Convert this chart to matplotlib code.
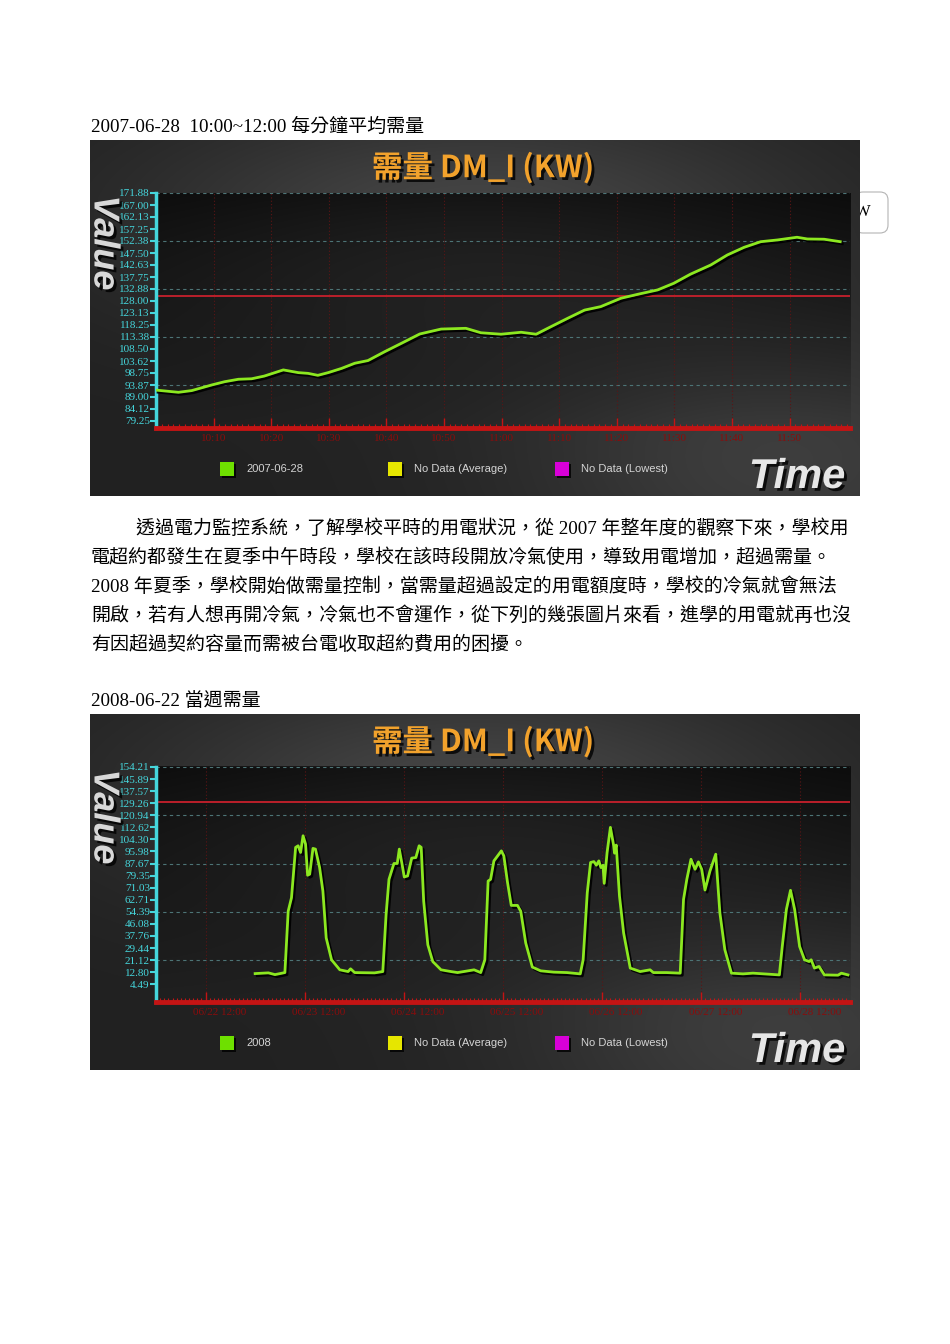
import numpy as np
import matplotlib
matplotlib.use('Agg')
import matplotlib.pyplot as plt
import matplotlib.patheffects as pe
from matplotlib.patches import Rectangle, FancyBboxPatch
from matplotlib.transforms import ScaledTranslation, IdentityTransform

W, H = 950, 1344

# chart 1: 2007-06-28, minutes after 10:00
c1_minutes = [0, 3.9, 6.2, 9.7, 11.9, 14.3, 16.6, 18.8, 22.1, 24.7, 26.4, 28.1, 29.9,
              32.2, 34.5, 36.8, 39.7, 42.6, 45.8, 49.5, 53.8, 56.4, 59.9, 63.4, 66.0,
              68.6, 71.5, 74.4, 77.2, 80.7, 83.6, 87.1, 89.9, 92.8, 96.3, 99.2, 102.1,
              105.0, 107.9, 111.3, 113.1, 116.0, 118.8]
c1_values = [91.8, 90.9, 91.6, 93.9, 95.2, 96.2, 96.4, 97.5, 100.0, 98.9, 98.6, 97.8, 98.9,
             100.6, 102.7, 103.8, 107.4, 110.8, 114.6, 116.6, 116.9, 115.1, 114.5, 115.3, 114.5,
             117.6, 121.0, 124.3, 125.7, 129.1, 130.7, 132.5, 135.2, 138.9, 142.6, 146.7, 149.8,
             152.1, 152.8, 153.9, 153.2, 153.1, 152.1]
c1_ylabels = ['171.88', '167.00', '162.13', '157.25', '152.38', '147.50', '142.63', '137.75',
              '132.88', '128.00', '123.13', '118.25', '113.38', '108.50', '103.62', '98.75',
              '93.87', '89.00', '84.12', '79.25']
c1_xticks = [10, 20, 30, 40, 50, 60, 70, 80, 90, 100, 110]
c1_xlabels = ['10:10', '10:20', '10:30', '10:40', '10:50', '11:00', '11:10', '11:20',
              '11:30', '11:40', '11:50']
c1_series = '2007-06-28'

# chart 2: week of 2008-06-22, hours after 06/22 00:00
c2_hours = [24.0, 27.2, 28.8, 31.2, 32.0, 32.8, 33.8, 34.4, 35.0, 35.6, 36.2, 36.7, 37.2,
            38.0, 38.6, 39.6, 40.4, 41.2, 42.5, 44.5, 46.5, 47.1, 48.1, 52.9, 54.9, 55.7,
            56.4, 57.6, 58.4, 58.9, 59.7, 60.1, 60.9, 61.9, 62.9, 63.7, 64.2, 64.8, 65.8,
            67.0, 69.0, 71.4, 73.0, 77.0, 78.6, 79.6, 80.4, 81.0, 81.8, 83.6, 84.2, 85.1,
            86.0, 87.5, 88.3, 89.5, 91.1, 93.1, 96.3, 99.5, 102.7, 103.4, 104.4, 105.2,
            106.0, 106.6, 107.2, 107.7, 108.2, 108.5, 109.2, 110.0, 110.8, 111.0, 111.4,
            112.2, 113.2, 114.8, 117.2, 119.6, 120.4, 123.6, 126.9, 127.7, 128.5, 129.5,
            130.5, 131.3, 132.1, 132.9, 134.1, 135.5, 136.5, 137.7, 139.3, 142.1, 144.5,
            150.9, 151.6, 152.6, 153.6, 154.6, 155.8, 157.0, 158.1, 158.6, 159.4, 160.5,
            161.8, 165.1, 165.9, 167.5]
c2_values = [11.8, 12.3, 11.1, 12.5, 54.8, 64.1, 98.8, 99.9, 95.3, 106.8, 101.1, 79.6, 80.3,
             98.1, 97.6, 85.0, 68.7, 36.4, 21.3, 14.4, 13.2, 15.1, 12.5, 12.3, 13.2, 52.5,
             76.8, 87.7, 87.7, 97.6, 85.0, 78.4, 79.1, 91.4, 91.8, 99.9, 98.8, 61.7, 31.7,
             20.1, 14.4, 13.2, 12.5, 14.4, 12.5, 21.3, 75.6, 76.8, 89.5, 96.4, 93.0, 74.5,
             58.8, 58.8, 54.8, 32.9, 16.3, 13.7, 12.8, 12.5, 11.6, 21.3, 67.6, 88.4,
             89.0, 86.5, 89.5, 84.9, 86.5, 74.0, 95.3, 112.6, 99.9, 94.8, 100.4,
             65.2, 39.8, 15.6, 13.2, 14.4, 12.5, 12.5, 12.1, 62.9, 76.8, 90.6,
             83.7, 88.8, 83.7, 69.4, 82.5, 94.1, 53.7, 28.3, 12.1, 11.6, 12.1,
             10.9, 30.5, 56.0, 69.2, 56.0, 30.5, 21.3, 20.1, 21.3, 15.6, 16.7,
             10.9, 10.7, 12.1, 10.9]
c2_ylabels = ['154.21', '145.89', '137.57', '129.26', '120.94', '112.62', '104.30', '95.98',
              '87.67', '79.35', '71.03', '62.71', '54.39', '46.08', '37.76', '29.44', '21.12',
              '12.80', '4.49']
c2_xticks = [12, 36, 60, 84, 108, 132, 156]
c2_xlabels = ['06/22 12:00', '06/23 12:00', '06/24 12:00', '06/25 12:00', '06/26 12:00',
              '06/27 12:00', '06/28 12:00']
c2_series = '2008'

contract_kw = 130
legend_names = ['No Data (Average)', 'No Data (Lowest)']

cap1 = '2007-06-28  10:00~12:00 每分鐘平均需量'
cap2 = '2008-06-22 當週需量'
para = ['透過電力監控系統，了解學校平時的用電狀況，從 2007 年整年度的觀察下來，學校用',
        '電超約都發生在夏季中午時段，學校在該時段開放冷氣使用，導致用電增加，超過需量。',
        '2008 年夏季，學校開始做需量控制，當需量超過設定的用電額度時，學校的冷氣就會無法',
        '開啟，若有人想再開冷氣，冷氣也不會運作，從下列的幾張圖片來看，進學的用電就再也沒',
        '有因超過契約容量而需被台電收取超約費用的困擾。']

DOC_FONT = ['Liberation Serif', 'Noto Sans CJK TC']
CYAN = '#45d6dc'
RED = '#c41414'


def rect(x0, y0, x1, y1):
    return [x0 / W, 1 - y1 / H, (x1 - x0) / W, (y1 - y0) / H]


def fx(px):
    return px / W


def fy(py):
    return 1 - py / H


def background(w, h, box):
    yy, xx = np.mgrid[0:h, 0:w].astype(float)
    glow1 = np.exp(-(((xx - 0.5 * w) / (0.42 * w)) ** 2 + ((yy - 0.22 * h) / (0.32 * h)) ** 2))
    glow2 = np.exp(-(((xx - 0.9 * w) / (0.35 * w)) ** 2 + ((yy - 0.9 * h) / (0.4 * h)) ** 2))
    g = 0.13 + 0.14 * glow1 + 0.11 * glow2
    x0, y0, x1, y1 = box
    inside = (xx >= x0) & (xx <= x1) & (yy >= y0) & (yy <= y1)
    t = np.clip((yy - y0) / (y1 - y0), 0, 1)
    g = np.where(inside, g * (0.3 + 0.65 * t), g)
    g = np.clip(g, 0, 1)
    return np.dstack([g, g, g])


def draw_chart(fig, top, xs, ys, ylabels, ylim, xlim, xticks, xlabels, minor_step,
               series, label_shift):
    left, right, bottom = 90, 860, top + 356
    p_top, p_bot = top + 53, top + 288
    p_left, p_right = 156, 850

    bg = fig.add_axes(rect(left, top, right, bottom), zorder=0)
    img = background(right - left, bottom - top,
                     (p_left - left, p_top - top, p_right - left, p_bot - top))
    bg.imshow(img, extent=(0, 1, 0, 1), aspect='auto', interpolation='bilinear')
    bg.set_axis_off()

    ax = fig.add_axes(rect(p_left, p_top, p_right, p_bot), zorder=1)
    ax.set_facecolor('none')
    ax.set_xlim(*xlim)
    ax.set_ylim(*ylim)

    yvals = [float(s) for s in ylabels]
    for i, v in enumerate(yvals):
        if i % 4 == 0:
            ax.axhline(v, color='#4d7476', lw=0.8, ls=(0, (3, 3)), zorder=1)
    for v in xticks:
        ax.axvline(v, color='#5c1414', lw=0.8, ls=(0, (1, 2)), zorder=1)
    ax.axhline(contract_kw, color='#c8202c', lw=1.3, zorder=2)

    ax.plot(xs, ys, color='#8ce820', lw=2, zorder=3,
            path_effects=[pe.SimpleLineShadow(offset=(1.5, -1.5), shadow_color='black', alpha=0.9),
                          pe.Normal()])

    for s in ['top', 'right']:
        ax.spines[s].set_visible(False)
    ax.spines['left'].set_color(CYAN)
    ax.spines['left'].set_linewidth(2.5)
    ax.spines['bottom'].set_color(RED)
    ax.spines['bottom'].set_linewidth(3.5)

    ax.set_yticks(yvals)
    ax.set_yticklabels(ylabels)
    ax.tick_params(axis='y', colors=CYAN, labelsize=8, length=4, width=1.5, pad=0.5)
    for lab in ax.get_yticklabels():
        lab.set_fontfamily('Liberation Serif')

    ax.set_xticks(xticks)
    ax.set_xticklabels(xlabels)
    ax.set_xticks(np.arange(xlim[0], xlim[1], minor_step), minor=True)
    ax.tick_params(axis='x', which='major', direction='in', color=RED, length=7, width=1,
                   labelcolor='#8a0c0c', labelsize=8, pad=4)
    ax.tick_params(axis='x', which='minor', direction='in', color=RED, length=3, width=0.8)
    shift = ScaledTranslation(label_shift / 100, 0, fig.dpi_scale_trans)
    for lab in ax.get_xticklabels():
        lab.set_fontfamily('Liberation Serif')
        lab.set_transform(lab.get_transform() + shift)

    shadow = [pe.withSimplePatchShadow(offset=(2, -2), shadow_rgbFace='black', alpha=0.8)]
    fig.text(fx(483), fy(top + 28), '需量 DM_I (KW)', ha='center', va='center', fontsize=22,
             fontweight='bold', color='#f2a22c', family=['Noto Sans CJK TC', 'DejaVu Sans'],
             zorder=5, path_effects=shadow)
    fig.text(fx(104), fy(top + 103), 'Value', ha='center', va='center', rotation=-90,
             fontsize=26, fontweight='bold', fontstyle='italic', color='#d8d8d8',
             family='Liberation Sans', zorder=5, path_effects=shadow)
    fig.text(fx(797), fy(top + 337), 'Time', ha='center', va='center', fontsize=30,
             fontweight='bold', fontstyle='italic', color='#e6e6e6',
             family='Liberation Sans', zorder=5, path_effects=shadow)

    ly = top + 329
    names = [series] + legend_names
    colors = ['#6ee000', '#e6e600', '#d800d8']
    for cx, name, c in zip([227, 395, 562], names, colors):
        fig.add_artist(Rectangle((fx(cx - 7 + 2), fy(ly + 7 + 2)), 14 / W, 14 / H,
                                 transform=fig.transFigure, fc='black', ec='none',
                                 alpha=0.8, zorder=5))
        fig.add_artist(Rectangle((fx(cx - 7), fy(ly + 7)), 14 / W, 14 / H,
                                 transform=fig.transFigure, fc=c, ec='none', zorder=6))
        fig.text(fx(cx + 19), fy(ly), name, ha='left', va='center', fontsize=8,
                 color='#d4d4d4', family='Liberation Sans', zorder=6)
    return ax


fig = plt.figure(figsize=(W / 100, H / 100), dpi=100)
fig.patch.set_facecolor('white')

# text box peeking out behind the first picture
fig.add_artist(FancyBboxPatch((855, H - 233), 33, 41,
                              boxstyle='round,pad=0,rounding_size=8',
                              transform=IdentityTransform(), fc='white', ec='#b4b4b4',
                              lw=0.8, zorder=-1))
fig.text(fx(855), fy(212), 'W', ha='left', va='center', fontsize=12,
         family='Liberation Serif', color='black', zorder=-1)

fig.text(fx(91), fy(127), cap1, ha='left', va='center', fontsize=13.7, family=DOC_FONT)
for i, line in enumerate(para):
    x0 = 136 if i == 0 else 91
    fig.text(fx(x0), fy(529 + 29 * i), line, ha='left', va='center', fontsize=13.7,
             family=DOC_FONT)
fig.text(fx(91), fy(701), cap2, ha='left', va='center', fontsize=13.7, family=DOC_FONT)

draw_chart(fig, 140, c1_minutes, c1_values, c1_ylabels, (76.4, 171.88), (0, 120.5),
           c1_xticks, c1_xlabels, 1, c1_series, 0)
draw_chart(fig, 714, c2_hours, c2_values, c2_ylabels, (-7.78, 154.21), (0, 168),
           c2_xticks, c2_xlabels, 1, c2_series, 14)

fig.savefig('out.png', dpi=100)
